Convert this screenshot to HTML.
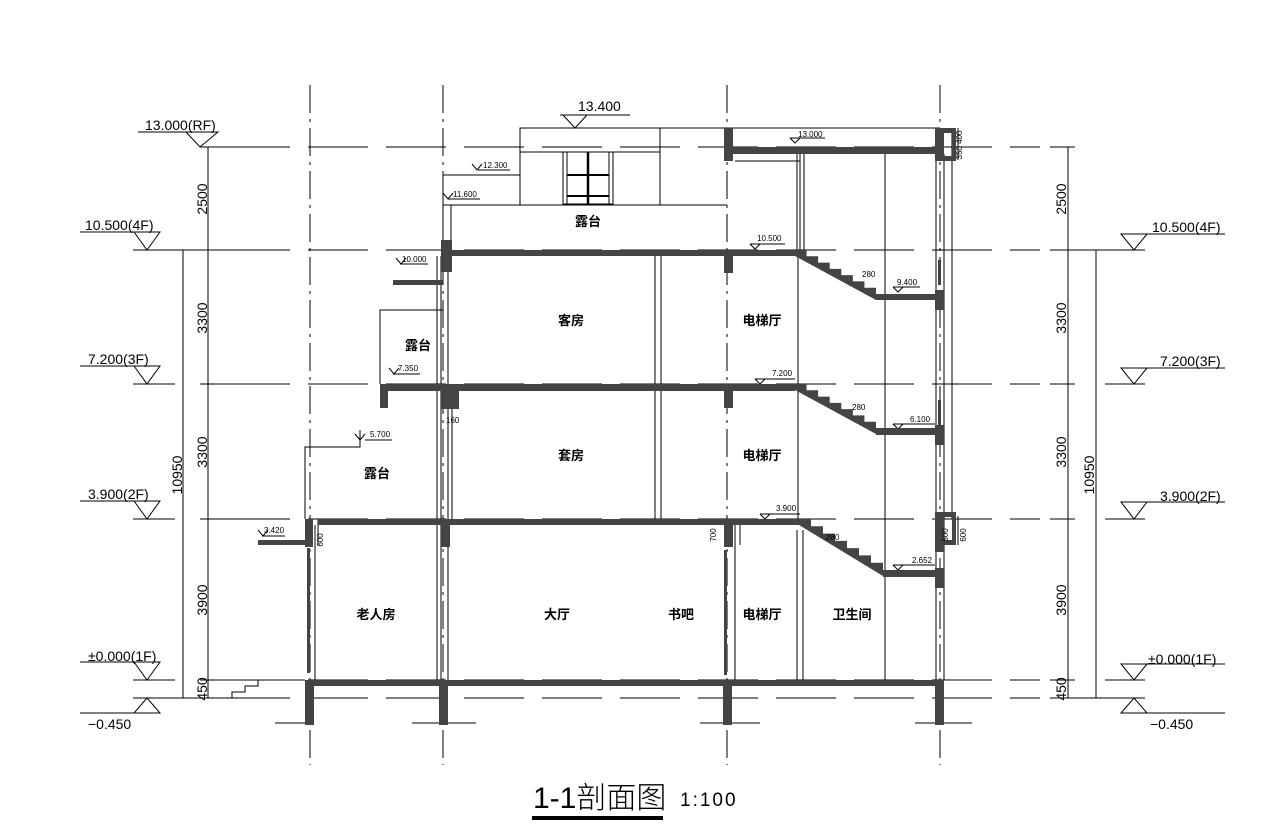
<!DOCTYPE html>
<html><head><meta charset="utf-8"><style>
html,body{margin:0;padding:0;background:#fff;}
svg{display:block;font-family:"Liberation Sans","Noto Sans CJK SC",sans-serif;}
.r{font-size:13px;font-weight:bold;font-family:"Noto Sans CJK SC","WenQuanYi Zen Hei",sans-serif;}
.lv{font-size:14px;}
</style></head><body>
<svg id="s" width="1287" height="840" viewBox="0 0 1287 840" xmlns="http://www.w3.org/2000/svg">
<g stroke="#000" stroke-width="1" fill="none">
<g stroke-dasharray="28,6,3,6">
<line x1="310" y1="85" x2="310" y2="765"/>
<line x1="443" y1="85" x2="443" y2="765"/>
<line x1="727" y1="85" x2="727" y2="765"/>
<line x1="940" y1="85" x2="940" y2="765"/>
</g>
<g stroke-dasharray="60,18">
<line x1="230" y1="147" x2="1040" y2="147"/>
<line x1="230" y1="250" x2="1040" y2="250"/>
<line x1="230" y1="384" x2="1040" y2="384"/>
<line x1="230" y1="519" x2="1040" y2="519"/>
<line x1="230" y1="680" x2="1040" y2="680"/>
<line x1="230" y1="698" x2="1040" y2="698"/>
</g>
<line x1="208" y1="147" x2="208" y2="698"/>
<line x1="183" y1="250" x2="183" y2="698"/>
<line x1="200" y1="147" x2="230" y2="147"/>
<line x1="133" y1="250" x2="230" y2="250"/>
<line x1="133" y1="384" x2="175" y2="384"/><line x1="200" y1="384" x2="230" y2="384"/>
<line x1="133" y1="519" x2="175" y2="519"/><line x1="200" y1="519" x2="230" y2="519"/>
<line x1="133" y1="680" x2="175" y2="680"/><line x1="200" y1="680" x2="230" y2="680"/>
<line x1="133" y1="698" x2="230" y2="698"/>
<line x1="1068" y1="147" x2="1068" y2="698"/>
<line x1="1096" y1="250" x2="1096" y2="698"/>
<line x1="1050" y1="147" x2="1075" y2="147"/>
<line x1="1050" y1="250" x2="1145" y2="250"/>
<line x1="1050" y1="384" x2="1075" y2="384"/><line x1="1105" y1="384" x2="1145" y2="384"/>
<line x1="1050" y1="519" x2="1075" y2="519"/><line x1="1105" y1="519" x2="1145" y2="519"/>
<line x1="1050" y1="680" x2="1075" y2="680"/><line x1="1105" y1="680" x2="1145" y2="680"/>
<line x1="1050" y1="698" x2="1145" y2="698"/>
<polyline points="138,132 218,132 200,147 186,132"/>
<polyline points="80,232 160,232 147,250 134,232"/>
<polyline points="80,366 160,366 147,384 134,366"/>
<polyline points="80,501 160,501 147,519 134,501"/>
<polyline points="80,662 160,662 147,680 134,662"/>
<polyline points="80,713 160,713 147,698 134,713"/>
<polyline points="1225,234 1121,234 1134,250 1147,234"/>
<polyline points="1225,368 1121,368 1134,384 1147,368"/>
<polyline points="1225,502 1121,502 1134,519 1147,502"/>
<polyline points="1225,664 1121,664 1134,680 1147,664"/>
<polyline points="1225,713 1121,713 1134,698 1147,713"/>
<line x1="560" y1="115" x2="630" y2="115"/>
<polyline points="563,115 575,128 587,115"/>
<rect x="520" y="128" width="140" height="77"/>
<line x1="520" y1="152" x2="660" y2="152"/>
<line x1="660" y1="128" x2="940" y2="128"/>
<rect x="563" y="152" width="50" height="52"/>
<line x1="567" y1="152" x2="567" y2="204"/><line x1="609" y1="152" x2="609" y2="204"/>
<line x1="588" y1="152" x2="588" y2="204" stroke-width="2.5"/>
<line x1="567" y1="175" x2="609" y2="175" stroke-width="2"/>
<line x1="567" y1="196" x2="609" y2="196" stroke-width="2"/>
<polyline points="520,175 443,175 443,250"/>
<line x1="443" y1="205" x2="727" y2="205"/>
<line x1="451" y1="205" x2="451" y2="250"/>
<line x1="735" y1="161" x2="800" y2="161"/>
<line x1="655" y1="256" x2="655" y2="519"/><line x1="661" y1="256" x2="661" y2="519"/>
<line x1="797" y1="154" x2="797" y2="250"/><line x1="800" y1="154" x2="800" y2="250"/><line x1="804" y1="154" x2="804" y2="250"/>
<line x1="798" y1="256" x2="798" y2="384"/>
<line x1="798" y1="391" x2="798" y2="519"/>
<line x1="797" y1="530" x2="797" y2="680"/><line x1="803" y1="530" x2="803" y2="680"/>
<line x1="885" y1="154" x2="885" y2="680"/>
<line x1="735" y1="519" x2="735" y2="680"/>
<line x1="437" y1="256" x2="437" y2="680"/><line x1="441" y1="256" x2="441" y2="680"/>
<line x1="448" y1="256" x2="448" y2="680"/>
<line x1="452" y1="391" x2="452" y2="519"/>
<line x1="315" y1="525" x2="315" y2="680"/>
<line x1="936" y1="154" x2="936" y2="680"/><line x1="944" y1="154" x2="944" y2="680"/>
<line x1="952" y1="128" x2="952" y2="519"/>
<polyline points="380,384 380,310 443,310"/>
<polyline points="305,519 305,447 360,447 360,430"/>
<polyline points="232,698 232,692 245,692 245,686 258,686 258,680 305,680"/>
<line x1="275" y1="723" x2="310" y2="723"/><line x1="412" y1="723" x2="476" y2="723"/>
<line x1="700" y1="723" x2="760" y2="723"/><line x1="915" y1="723" x2="972" y2="723"/>
<line x1="318" y1="519" x2="318" y2="545"/><line x1="740" y1="520" x2="740" y2="545"/>
<line x1="958" y1="516" x2="958" y2="545"/>
<line x1="958" y1="128" x2="958" y2="160"/>
<g>
<line x1="400" y1="264" x2="428" y2="264"/><polyline points="396,258 401,264 406,258"/>
<line x1="262" y1="536" x2="285" y2="536"/><polyline points="258,530 263,536 268,530"/>
<line x1="365" y1="440" x2="392" y2="440"/><polyline points="355,434 360,440 365,434"/>
<line x1="393" y1="374" x2="420" y2="374"/><polyline points="389,368 394,374 399,368"/>
<line x1="448" y1="199" x2="480" y2="199"/><polyline points="443,193 448,199 453,193"/>
<line x1="478" y1="170" x2="510" y2="170"/><polyline points="472,164 477,170 482,164"/>
<line x1="750" y1="244" x2="785" y2="244"/><polyline points="750,244 755,249 760,244"/>
<line x1="755" y1="379" x2="795" y2="379"/><polyline points="755,379 760,384 765,379"/>
<line x1="760" y1="514" x2="800" y2="514"/><polyline points="760,514 765,519 770,514"/>
<line x1="790" y1="138" x2="825" y2="138"/><polyline points="790,138 795,143 800,138"/>
<line x1="893" y1="287" x2="920" y2="287"/><polyline points="893,287 898,292 903,287"/>
<line x1="893" y1="424" x2="935" y2="424"/><polyline points="893,424 898,429 903,424"/>
<line x1="893" y1="565" x2="935" y2="565"/><polyline points="893,565 898,570 903,565"/>
</g>
</g>
<g id="dark" fill="#444" stroke="none">
<rect x="305" y="680" width="638" height="6"/>
<rect x="318" y="519" width="409" height="6"/>
<rect x="385" y="384" width="342" height="7"/>
<rect x="443" y="250" width="284" height="6"/>
<rect x="727" y="147" width="213" height="7"/>
<rect x="727" y="250" width="68" height="6"/>
<rect x="727" y="384" width="68" height="7"/>
<rect x="727" y="519" width="72" height="6"/>
<rect x="876" y="294" width="67" height="6"/>
<rect x="876" y="428" width="67" height="7"/>
<rect x="883" y="570" width="60" height="7"/>
<rect x="441" y="240" width="11" height="32"/>
<rect x="441" y="384" width="18" height="25"/>
<rect x="441" y="519" width="9" height="28"/>
<rect x="305" y="519" width="8" height="28"/>
<rect x="380" y="384" width="8" height="24"/>
<rect x="724" y="128" width="9" height="33"/>
<rect x="724" y="250" width="9" height="23"/>
<rect x="724" y="384" width="9" height="24"/>
<rect x="724" y="519" width="9" height="28"/>
<rect x="935" y="128" width="9" height="33"/>
<rect x="935" y="290" width="9" height="20"/>
<rect x="935" y="425" width="9" height="20"/>
<rect x="935" y="512" width="9" height="40"/>
<rect x="935" y="568" width="9" height="20"/>
<rect x="944" y="128" width="12" height="5"/><rect x="944" y="156" width="12" height="5"/><rect x="952" y="128" width="4" height="33"/>
<rect x="944" y="512" width="12" height="5"/><rect x="944" y="540" width="12" height="5"/><rect x="952" y="512" width="4" height="33"/>
<rect x="393" y="280" width="50" height="5"/>
<rect x="258" y="540" width="50" height="5"/>
<rect x="305" y="680" width="9" height="45"/>
<rect x="439" y="680" width="9" height="45"/>
<rect x="723" y="680" width="9" height="45"/>
<rect x="935" y="680" width="9" height="45"/>
<rect x="938" y="260" width="3" height="25"/>
<rect x="938" y="400" width="3" height="25"/>
<rect x="307" y="548" width="3" height="125"/>
<rect x="724" y="550" width="3" height="125"/>
</g>
<g fill="#000">
<text class="r" x="588" y="226" text-anchor="middle">露台</text>
<text class="r" x="571" y="325" text-anchor="middle">客房</text>
<text class="r" x="762" y="325" text-anchor="middle">电梯厅</text>
<text class="r" x="418" y="350" text-anchor="middle">露台</text>
<text class="r" x="571" y="460" text-anchor="middle">套房</text>
<text class="r" x="762" y="460" text-anchor="middle">电梯厅</text>
<text class="r" x="377" y="478" text-anchor="middle">露台</text>
<text class="r" x="376" y="619" text-anchor="middle">老人房</text>
<text class="r" x="557" y="619" text-anchor="middle">大厅</text>
<text class="r" x="681" y="619" text-anchor="middle">书吧</text>
<text class="r" x="762" y="619" text-anchor="middle">电梯厅</text>
<text class="r" x="852" y="619" text-anchor="middle">卫生间</text>
<text class="lv" x="145" y="130">13.000(RF)</text>
<text class="lv" x="85" y="230">10.500(4F)</text>
<text class="lv" x="88" y="364">7.200(3F)</text>
<text class="lv" x="88" y="499">3.900(2F)</text>
<text class="lv" x="88" y="661">±0.000(1F)</text>
<text class="lv" x="88" y="729">−0.450</text>
<text class="lv" x="1152" y="232">10.500(4F)</text>
<text class="lv" x="1160" y="366">7.200(3F)</text>
<text class="lv" x="1160" y="501">3.900(2F)</text>
<text class="lv" x="1148" y="664">±0.000(1F)</text>
<text class="lv" x="1150" y="729">−0.450</text>
<text class="lv" x="578" y="111">13.400</text>
<g class="lv">
<text transform="translate(207,199) rotate(-90)" text-anchor="middle">2500</text>
<text transform="translate(207,318) rotate(-90)" text-anchor="middle">3300</text>
<text transform="translate(207,452) rotate(-90)" text-anchor="middle">3300</text>
<text transform="translate(207,600) rotate(-90)" text-anchor="middle">3900</text>
<text transform="translate(207,689) rotate(-90)" text-anchor="middle">450</text>
<text transform="translate(182,475) rotate(-90)" text-anchor="middle">10950</text>
<text transform="translate(1066,199) rotate(-90)" text-anchor="middle">2500</text>
<text transform="translate(1066,318) rotate(-90)" text-anchor="middle">3300</text>
<text transform="translate(1066,452) rotate(-90)" text-anchor="middle">3300</text>
<text transform="translate(1066,600) rotate(-90)" text-anchor="middle">3900</text>
<text transform="translate(1066,689) rotate(-90)" text-anchor="middle">450</text>
<text transform="translate(1094,475) rotate(-90)" text-anchor="middle">10950</text>
</g>
<g font-size="8">
<text x="402" y="262">10.000</text>
<text x="264" y="533">3.420</text>
<text x="370" y="437">5.700</text>
<text x="398" y="371">7.350</text>
<text x="453" y="197">11.600</text>
<text x="483" y="168">12.300</text>
<text x="798" y="137">13.000</text>
<text x="757" y="241">10.500</text>
<text x="772" y="376">7.200</text>
<text x="776" y="511">3.900</text>
<text x="897" y="285">9.400</text>
<text x="910" y="422">6.100</text>
<text x="912" y="563">2.652</text>
<text x="862" y="277">280</text>
<text x="852" y="410">280</text>
<text x="826" y="540">280</text>
<text transform="translate(323,540) rotate(-90)" text-anchor="middle">600</text>
<text transform="translate(716,535) rotate(-90)" text-anchor="middle">700</text>
<text transform="translate(966,535) rotate(-90)" text-anchor="middle">600</text>
<text transform="translate(948,535) rotate(-90)" text-anchor="middle">500</text>
<text transform="translate(962,145) rotate(-90)" text-anchor="middle">350 400</text>
<text x="446" y="423">160</text>
</g>
<text x="533" y="808" font-size="30" font-family="'Liberation Sans','Noto Sans CJK SC',sans-serif" font-weight="200">1-1<tspan font-family="'Noto Sans CJK SC',sans-serif">剖面图</tspan></text>
<text x="680" y="806" font-size="19" letter-spacing="2">1:100</text>
<rect x="532" y="816" width="131" height="4"/>
</g>
</svg>
<script>
var d=document.getElementById('dark');
function stair(x0,y0,x1,y1,n){
 var dx=(x1-x0)/n,dy=(y1-y0)/n,p=[];
 p.push(x0+','+(y0+6));p.push(x0+','+y0);
 for(var i=0;i<n;i++){p.push((x0+i*dx+dx)+','+(y0+i*dy));p.push((x0+i*dx+dx)+','+(y0+i*dy+dy));}
 p.push(x1+','+(y1+6));
 var pg=document.createElementNS('http://www.w3.org/2000/svg','polygon');
 pg.setAttribute('points',p.join(' '));pg.setAttribute('fill','#444');d.appendChild(pg);
}
stair(795,250,876,294,7);
stair(795,384,876,428,7);
stair(799,519,883,570,7);
</script>
</body></html>
